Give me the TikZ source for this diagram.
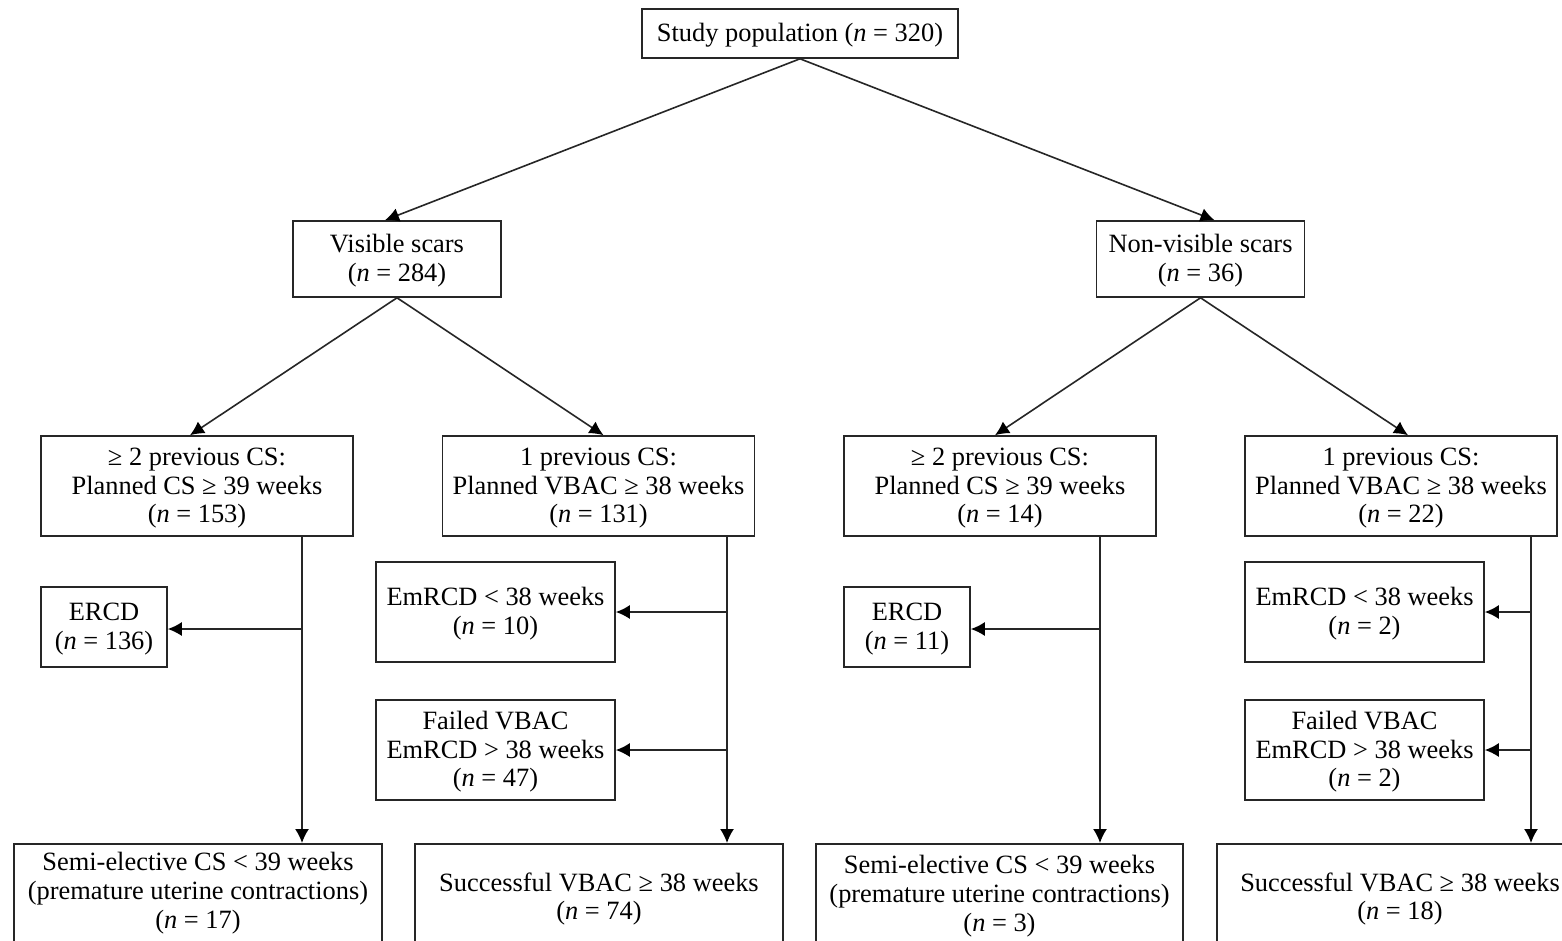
\documentclass[tikz,border=0pt]{standalone}
\usepackage{fontspec}
\setmainfont{Liberation Serif}
\usetikzlibrary{arrows.meta}
\newcommand{\nn}{\textit{n}}
\newcommand{\st}{\rule{0pt}{10.9pt}}
\tikzset{
  box/.style={draw=black!85, line width=0.8pt, align=center, inner sep=1pt,
    font=\fontsize{13.2pt}{14.4pt}\selectfont},
  txt/.style={align=center, inner sep=0pt, font=\fontsize{13.2pt}{14.4pt}\selectfont},
  frame/.style={draw=black!85, line width=0.8pt, anchor=north, minimum height=100pt},
  arr/.style={draw=black!85, line width=0.8pt, -{Latex[length=7pt,width=7pt,black]}},
  ln/.style={draw=black!85, line width=0.8pt}
}
\begin{document}
\begin{tikzpicture}[x=0.5pt,y=-0.5pt]
\useasboundingbox (0,0) rectangle (1562,941);
\begin{scope}
\clip (0,0) rectangle (1562,941);
\fill[white] (0,0) rectangle (1562,941);
% nodes
\node[box, minimum width=158pt, minimum height=24.5pt] (top) at (800,33.5) {\st Study population (\nn{} = 320)};
\node[box, minimum width=104pt, minimum height=38pt] (vis) at (397,259) {\st Visible scars\\(\nn{} = 284)};
\node[box, minimum width=104pt, minimum height=38pt] (nvis) at (1200.5,259) {\st Non-visible scars\\(\nn{} = 36)};

\node[box, minimum width=156pt, minimum height=50pt] (A) at (197,486) {\st ≥ 2 previous CS:\\Planned CS ≥ 39 weeks\\(\nn{} = 153)};
\node[box, minimum width=156pt, minimum height=50pt] (B) at (598.5,486) {\st 1 previous CS:\\Planned VBAC ≥ 38 weeks\\(\nn{} = 131)};
\node[box, minimum width=156pt, minimum height=50pt] (C) at (1000,486) {\st ≥ 2 previous CS:\\Planned CS ≥ 39 weeks\\(\nn{} = 14)};
\node[box, minimum width=156pt, minimum height=50pt] (D) at (1401,486) {\st 1 previous CS:\\Planned VBAC ≥ 38 weeks\\(\nn{} = 22)};

\node[box, minimum width=63pt, minimum height=40pt] (ercdA) at (104,627) {\st ERCD\\(\nn{} = 136)};
\node[box, minimum width=119.5pt, minimum height=50pt] (emB) at (495.5,612) {\st EmRCD < 38 weeks\\(\nn{} = 10)};
\node[box, minimum width=119.5pt, minimum height=50pt] (failB) at (495.5,750) {\st Failed VBAC\\EmRCD > 38 weeks\\(\nn{} = 47)};
\node[box, minimum width=63pt, minimum height=40pt] (ercdC) at (907,627) {\st ERCD\\(\nn{} = 11)};
\node[box, minimum width=119.5pt, minimum height=50pt] (emD) at (1364.5,612) {\st EmRCD < 38 weeks\\(\nn{} = 2)};
\node[box, minimum width=119.5pt, minimum height=50pt] (failD) at (1364.5,750) {\st Failed VBAC\\EmRCD > 38 weeks\\(\nn{} = 2)};

\node[frame, minimum width=184pt] (fA) at (198,843) {};
\node[frame, minimum width=184pt] (fB) at (599,843) {};
\node[frame, minimum width=183.5pt] (fC) at (999.5,843) {};
\node[frame, minimum width=184pt] (fD) at (1401,843) {};
\node[txt] (tA) at (198,893) {Semi-elective CS < 39 weeks\\(premature uterine contractions)\\(\nn{} = 17)};
\node[txt] (tB) at (599,899) {Successful VBAC ≥ 38 weeks\\(\nn{} = 74)};
\node[txt] (tC) at (999.5,896) {Semi-elective CS < 39 weeks\\(premature uterine contractions)\\(\nn{} = 3)};
\node[txt] (tD) at (1400,899) {Successful VBAC ≥ 38 weeks\\(\nn{} = 18)};

% tree arrows
\draw[arr] (top.south) -- ([xshift=-6pt]vis.north);
\draw[arr] (top.south) -- ([xshift=7pt]nvis.north);
\draw[arr] (vis.south) -- ([xshift=-3.5pt]A.north);
\draw[arr] (vis.south) -- ([xshift=2.5pt]B.north);
\draw[arr] (nvis.south) -- ([xshift=-2.5pt]C.north);
\draw[arr] (nvis.south) -- ([xshift=3.5pt]D.north);

% vertical spines
\coordinate (cA) at ([xshift=52.5pt]A.south);
\coordinate (cB) at ([xshift=64.25pt]B.south);
\coordinate (cC) at ([xshift=50pt]C.south);
\coordinate (cD) at ([xshift=65pt]D.south);
\draw[arr] (cA) -- (cA |- fA.north);
\draw[arr] (cB) -- (cB |- fB.north);
\draw[arr] (cC) -- (cC |- fC.north);
\draw[arr] (cD) -- (cD |- fD.north);

% branches
\draw[arr] ([yshift=-1pt]cA |- ercdA.east) -- ([yshift=-1pt]ercdA.east);
\draw[arr] (cB |- emB.east) -- (emB.east);
\draw[arr] (cB |- failB.east) -- (failB.east);
\draw[arr] ([yshift=-1pt]cC |- ercdC.east) -- ([yshift=-1pt]ercdC.east);
\draw[arr] (cD |- emD.east) -- (emD.east);
\draw[arr] (cD |- failD.east) -- (failD.east);
\end{scope}
\end{tikzpicture}
\end{document}
